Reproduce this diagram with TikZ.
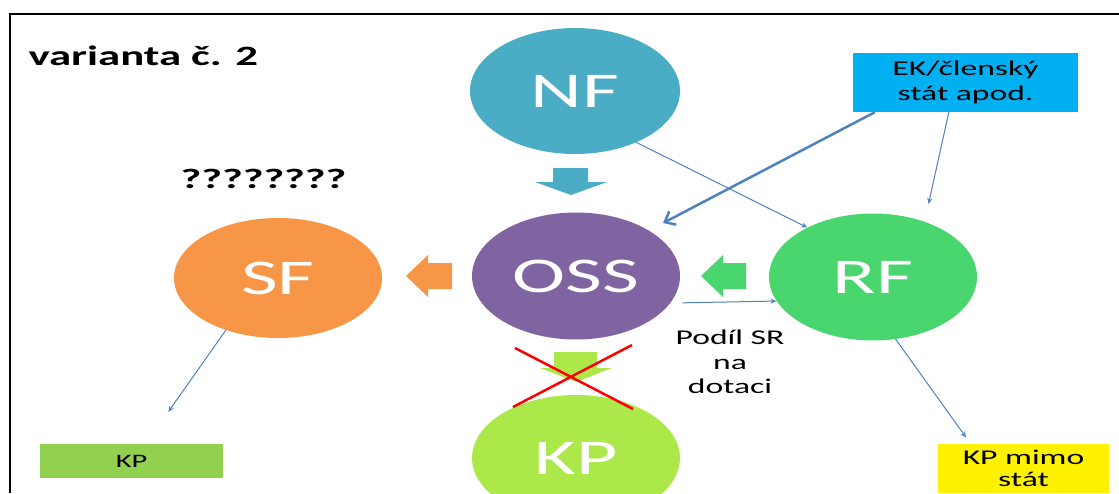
\documentclass[tikz,border=0pt]{standalone}
\usepackage{fontspec}
\setmainfont{Carlito}[FakeStretch=1.6]
\usetikzlibrary{arrows.meta, shapes.geometric}

\definecolor{nfmodra}{HTML}{4BACC6}
\definecolor{ossfialova}{HTML}{8064A2}
\definecolor{sforanzova}{HTML}{F79646}
\definecolor{rfzelena}{HTML}{4AD66F}
\definecolor{kplimetka}{HTML}{ADE84B}
\definecolor{kpzelena}{HTML}{92D050}
\definecolor{ekmodra}{HTML}{00B0F0}
\definecolor{sipka}{HTML}{4F81BD}

\begin{document}
\begin{tikzpicture}[x=1pt, y=-1pt]
        \tikzset{kruh/.style={ellipse, minimum width=208pt, minimum height=126pt,
                inner sep=0pt, text=white, font=\fontsize{50}{60}\selectfont},
            tenka/.style={draw=sipka, line width=1pt, -{Stealth[length=6pt,width=5pt]}},
            box/.style={rectangle, inner sep=0pt, align=center, font=\fontsize{21}{25}\selectfont}}

        \useasboundingbox (0,0) rectangle (1119,493);
        \draw[line width=1.5pt] (10,493) -- (10,14) -- (1119,14);

        \node[anchor=base west, font=\bfseries\fontsize{28}{34}\selectfont] (nadpis) at (25,65) {varianta č. 2};
        \node[anchor=base west, font=\bfseries\fontsize{28}{34}\selectfont] (otazky) at (177,188) {????????};

        \node[kruh, fill=nfmodra, minimum width=210pt] (nf) at (575,91) {NF};
        \node[kruh, fill=ossfialova, minimum height=127pt] (oss) at (576,276) {OSS};
        \node[kruh, fill=sforanzova, minimum height=120pt] (sf) at (278,278) {SF};
        \node[kruh, fill=rfzelena, minimum height=127pt] (rf) at (873,277) {RF};
        \node[kruh, fill=kplimetka] (kp) at (576,458) {KP};

        \node[box, fill=ekmodra, minimum width=225pt, minimum height=59pt] (ek) at (965.5,82.5) {EK/členský\\stát apod.};
        \node[box, fill=kpzelena, minimum width=183pt, minimum height=34pt,
            font=\fontsize{19}{23}\selectfont] (kpl) at (131.5,461) {KP};
        \node[box, fill=yellow, minimum width=171pt, minimum height=49pt,
            font=\fontsize{21}{22}\selectfont, anchor=north] (kpm) at (1023.5,444) {KP mimo\\stát};
        \node[align=center, font=\fontsize{21}{24.5}\selectfont] (podil) at (730,362) {Podíl SR\\na\\dotaci};

        % sipky mezi fondy
        \fill[nfmodra] (553,168) -- (588,168) -- (588,182) -- (607,182) -- (571,195) -- (535,182) -- (553,182) -- cycle;
        \fill[sforanzova] (452,263) -- (428,263) -- (428,255) -- (406,276) -- (428,297) -- (428,289) -- (452,289) -- cycle;
        \fill[rfzelena] (746,263) -- (723,263) -- (723,255) -- (701,276) -- (723,297) -- (723,289) -- (746,289) -- cycle;
        \fill[kplimetka] (554,352) -- (597,352) -- (597,368) -- (612,368) -- (576,382) -- (540,368) -- (554,368) -- cycle;

        \draw[tenka] (nf.-40) -- (rf.143);
        \draw[draw=sipka, line width=2.5pt, -{Straight Barb[length=9pt,width=15pt]}, shorten >=16pt]
            ([xshift=22pt]ek.south west) -- (oss.32);
        \draw[tenka, shorten >=18pt] ([xshift=96pt]ek.south west) -- (rf.47);
        \draw[tenka, shorten <=12pt] (oss.-16) -- (rf.194);
        \draw[tenka, shorten >=39pt] (sf.-135) -- ([xshift=106pt]kpl.north west);
        \draw[tenka, shorten >=8pt] (rf.-70) -- ([xshift=33pt]kpm.north west);

        % preskrtnuto
        \draw[red, line width=2.5pt] (515,348) -- (633,409) (632,345) -- (513,407);

    \end{tikzpicture}
\end{document}
